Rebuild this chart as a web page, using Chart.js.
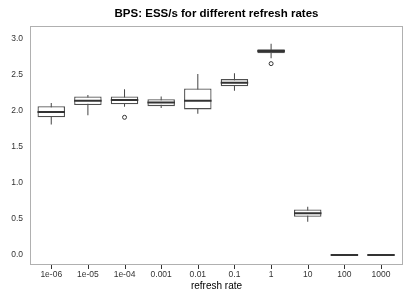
<!DOCTYPE html>
<html>
<head>
<meta charset="utf-8">
<script src="https://cdn.jsdelivr.net/npm/chart.js@4"></script>
<style>
  html, body { margin: 0; padding: 0; background: #ffffff; }
  #wrap { width: 415px; height: 297px; }
</style>
</head>
<body>
<div id="wrap"><canvas id="c" width="415" height="297"></canvas></div>
<script>
// ---- data ----
const categories  = ['1e-06', '1e-05', '1e-04', '0.001', '0.01', '0.1', '1', '10', '100', '1000'];
const whiskerLow  = [1.81, 1.94, 2.055, 2.04, 1.96, 2.28, 2.73, 0.46, 0, 0];
const q1          = [1.91, 2.08, 2.09, 2.065, 2.02, 2.34, 2.80, 0.53, 0, 0];
const median      = [1.985, 2.14, 2.15, 2.115, 2.14, 2.39, 2.83, 0.58, 0, 0];
const q3          = [2.065, 2.20, 2.20, 2.16, 2.31, 2.44, 2.855, 0.63, 0, 0];
const whiskerHigh = [2.11, 2.22, 2.30, 2.20, 2.51, 2.52, 2.93, 0.67, 0, 0];
const outlierCategory = [2, 6];
const outlierValue    = [1.91, 2.655];
const yTickValues = [0, 0.5, 1, 1.5, 2, 2.5, 3];

// ---- styles ----
const BOX_WIDTH = 0.75; // in category units
const FONT = "'Liberation Sans', Arial, Helvetica, sans-serif";

const idx = categories.map((_, i) => i);
const boxData = idx.map(i => ({ x: i, y: [q1[i], q3[i]] }));
const whiskerData = idx.map(i => ({ x: i, y: [whiskerLow[i], whiskerHigh[i]] }));
const medianData = idx.map(i => ({ x: i, y: median[i] }));
const outlierData = outlierCategory.map((c, k) => ({ x: c, y: outlierValue[k] }));

// panel frame + x tick marks (positions come from the x scale)
const framePlugin = {
  id: 'frame',
  afterDraw(chart) {
    const a = chart.chartArea, ctx = chart.ctx;
    const xs = chart.scales.x;
    ctx.save();
    ctx.strokeStyle = '#b0b0b0';
    ctx.lineWidth = 1;
    ctx.strokeRect(Math.round(a.left) + 0.5, Math.round(a.top) + 0.5,
                   Math.round(a.right - a.left) - 1, Math.round(a.bottom - a.top) - 1);
    const y0 = Math.round(a.bottom);
    ctx.fillStyle = '#333333';
    for (let k = 0; k < categories.length; k++) {
      const px = Math.round(xs.getPixelForValue(k));
      ctx.fillRect(px, y0, 1, 4);
    }
    ctx.restore();
  }
};

new Chart(document.getElementById('c'), {
  type: 'bar',
  data: {
    datasets: [
      {
        type: 'scatter',
        data: outlierData,
        pointStyle: 'circle',
        radius: 2,
        borderWidth: 1,
        borderColor: '#333333',
        backgroundColor: '#ffffff',
        order: 0
      },
      {
        type: 'scatter',
        data: medianData,
        pointStyle: 'line',
        radius: (ctx) => {
          const s = ctx.chart.scales.x;
          return Math.abs(s.getPixelForValue(BOX_WIDTH / 2) - s.getPixelForValue(0));
        },
        borderWidth: 2,
        borderColor: '#333333',
        order: 1
      },
      {
        type: 'bar',
        data: boxData,
        grouped: false,
        barPercentage: BOX_WIDTH,
        categoryPercentage: 1,
        backgroundColor: '#ffffff',
        borderColor: '#4f4f4f',
        borderWidth: 1.3,
        borderSkipped: false,
        order: 2
      },
      {
        type: 'bar',
        data: whiskerData,
        grouped: false,
        maxBarThickness: 1,
        backgroundColor: '#444444',
        borderWidth: 0,
        order: 3
      }
    ]
  },
  options: {
    responsive: false,
    animation: false,
    events: [],
    layout: { padding: { left: 0, right: 12, top: 0, bottom: 0 } },
    plugins: {
      legend: { display: false },
      tooltip: { enabled: false },
      title: {
        display: true,
        text: 'BPS: ESS/s for different refresh rates',
        fullSize: false,
        color: '#000000',
        font: { family: FONT, size: 11.5, weight: 'bold' },
        padding: { top: 7, bottom: 5 }
      }
    },
    scales: {
      x: {
        type: 'linear',
        offset: false,
        min: -0.58,
        max: 9.6,
        afterBuildTicks: (scale) => { scale.ticks = idx.map(v => ({ value: v })); },
        afterFit: (scale) => { scale.height = 32; },
        border: { display: false },
        grid: { display: false, drawTicks: true, tickLength: 4 },
        ticks: {
          autoSkip: false,
          maxRotation: 0,
          padding: 1,
          color: '#333333',
          font: { family: FONT, size: 8.5 },
          callback: (v) => categories[v]
        },
        title: {
          display: true,
          text: 'refresh rate',
          color: '#000000',
          font: { family: FONT, size: 10 },
          padding: { top: 0, bottom: 5 }
        }
      },
      y: {
        type: 'linear',
        min: -0.14,
        max: 3.18,
        afterBuildTicks: (scale) => { scale.ticks = yTickValues.map(v => ({ value: v })); },
        afterFit: (scale) => { scale.width = 30; },
        border: { display: false },
        grid: { display: false, drawTicks: false },
        ticks: {
          padding: 7,
          color: '#333333',
          font: { family: FONT, size: 8.5 },
          callback: (v) => Number(v).toFixed(1)
        }
      }
    }
  },
  plugins: [framePlugin]
});
</script>
</body>
</html>
